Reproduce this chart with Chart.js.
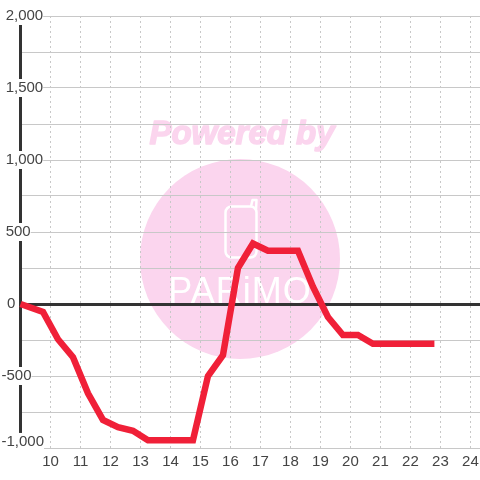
<!DOCTYPE html>
<html><head><meta charset="utf-8">
<style>html,body{margin:0;padding:0;background:#fff}canvas{display:block}</style>
<script src="https://cdn.jsdelivr.net/npm/chart.js@4"></script>
</head><body><canvas id="c" width="480" height="480"></canvas>
<script>
const hours = [9,9.75,10.25,10.75,11.25,11.75,12.25,12.75,13.25,14.75,15.25,15.75,16.25,16.75,17.25,18.25,18.75,19.25,19.75,20.25,20.75,22.8];
const values = [0,-55,-245,-370,-620,-805,-855,-880,-946,-946,-500,-355,250,420,370,370,120,-90,-215,-215,-276,-276];
const xTicks = [10,11,12,13,14,15,16,17,18,19,20,21,22,23,24];
const watermarkTitle = 'Powered by';
const watermarkBrand = 'PARiMO';
const FONT = '"Liberation Sans"';
const NB = '\u00a0';
const bottomLabelAnchor = -958; // the lowest label sits a little above its gridline

const watermark = {
  id: 'watermark',
  beforeDraw(chart) {
    const g = chart.ctx;
    g.save();
    g.fillStyle = '#fff';
    g.fillRect(0, 0, 480, 480);
    g.fillStyle = '#fbd5ee';
    g.beginPath(); g.arc(240, 259, 100, 0, Math.PI * 2); g.fill();
    g.font = 'italic bold 33px ' + FONT;
    g.textAlign = 'center'; g.textBaseline = 'middle';
    g.strokeStyle = '#fbd5ee'; g.lineWidth = 1.5; g.lineJoin = 'round';
    g.strokeText(watermarkTitle, 242, 135);
    g.fillText(watermarkTitle, 242, 135);
    g.strokeStyle = '#fff'; g.lineWidth = 2.5;
    g.beginPath();
    g.roundRect(225.5, 206.5, 31, 51, 6);
    g.moveTo(256, 210); g.lineTo(256.5, 200); g.lineTo(252.5, 200); g.lineTo(251, 206.5);
    g.stroke();
    g.font = '36px "Liberation Sans Narrow", ' + FONT;
    g.textBaseline = 'alphabetic';
    g.letterSpacing = '1px';
    g.fillStyle = '#fff';
    g.fillText(watermarkBrand, 240, 303);
    g.restore();
  }
};

new Chart(document.getElementById('c'), {
  type: 'line',
  data: { datasets: [{
    data: hours.map((h, i) => ({ x: h, y: values[i] })),
    borderColor: '#f02038',
    borderWidth: 6.5,
    pointRadius: 0,
    tension: 0,
    fill: false,
    clip: false,
    borderCapStyle: 'butt',
    borderJoinStyle: 'miter'
  }] },
  options: {
    responsive: false,
    animation: false,
    devicePixelRatio: 1,
    layout: { autoPadding: false, padding: { left: 20.5, top: 16, right: 0, bottom: 0 } },
    plugins: { legend: { display: false }, tooltip: { enabled: false } },
    scales: {
      x: {
        type: 'linear', min: 9, max: 24.32,
        afterBuildTicks(s) { s.ticks = xTicks.map(v => ({ value: v })); },
        afterFit(s) { s.height = 32; s.paddingRight = 0; s.paddingLeft = 0; s._margins.left = 0; s._margins.right = 0; },
        grid: { color: '#c8c8c8', lineWidth: 1, drawTicks: false },
        border: { display: false, dash: [2, 3] },
        ticks: { autoSkip: false, maxRotation: 0, padding: 5, color: '#444', font: { family: FONT, size: 15 } }
      },
      y: {
        min: -1000, max: 2000,
        afterFit(s) { s.width = 0; },
        afterBuildTicks(s) { s.ticks.splice(1, 0, { value: bottomLabelAnchor }); },
        grid: {
          drawTicks: false,
          color: c => c.tick.value === 0 ? '#333' : c.tick.value === bottomLabelAnchor ? 'rgba(0,0,0,0)' : '#c8c8c8',
          lineWidth: c => c.tick.value === 0 ? 3 : c.tick.value === bottomLabelAnchor ? 0 : 1
        },
        border: { display: true, color: '#333', width: 3 },
        ticks: {
          stepSize: 250, autoSkip: false, mirror: true, crossAlign: 'near', padding: -19,
          color: '#444',
          font: { family: FONT, size: 15 },
          showLabelBackdrop: c => !!(c.tick && c.tick.label),
          backdropColor: '#fff',
          backdropPadding: c => ({ left: 0, top: 0, bottom: 0, right: (c.tick && c.tick.value === 0) ? 14 : 2 }),
          callback(v) {
            if (v === bottomLabelAnchor) return '-1,000';
            if (v === -1000 || v % 500 !== 0) return '';
            const s = v.toLocaleString('en-US');
            if (v === 0) return NB + '\u200a' + s;
            return v < 0 ? s : NB + s;
          }
        }
      }
    }
  },
  plugins: [watermark]
});
</script></body></html>
